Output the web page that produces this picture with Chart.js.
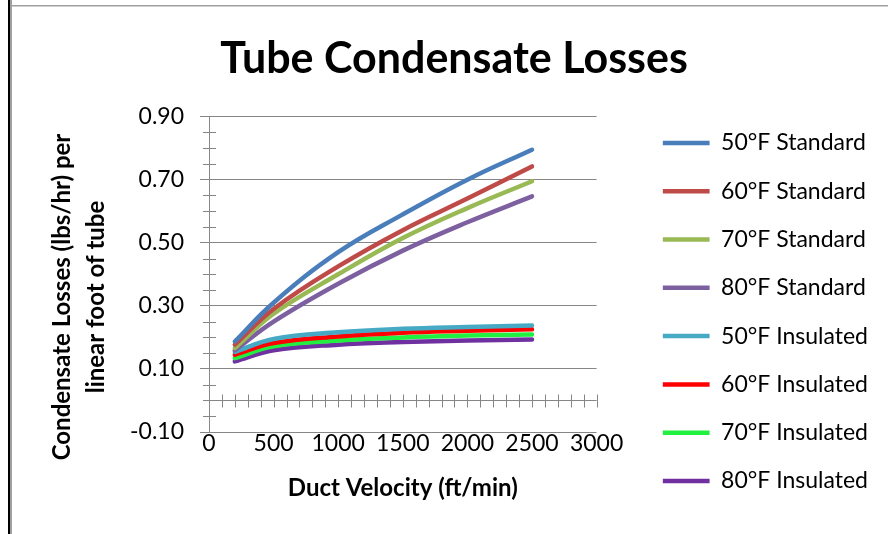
<!DOCTYPE html>
<html>
<head>
<meta charset="utf-8">
<script src="https://cdn.jsdelivr.net/npm/chart.js@4.4.0/dist/chart.umd.min.js"></script>
<style>
  html, body { margin: 0; padding: 0; background: #fff; }
  #wrap { width: 888px; height: 534px; }
</style>
</head>
<body>
<div id="wrap"><canvas id="lossChart" width="888" height="534"></canvas></div>
<script>
// Duct velocity (ft/min)
const velocities = [200, 500, 1000, 1500, 2000, 2500];

// Condensate losses (lbs/hr per linear foot of tube)
const std50 = [0.187, 0.31, 0.47, 0.59, 0.70, 0.795];
const std60 = [0.177, 0.29, 0.425, 0.54, 0.64, 0.742];
const std70 = [0.166, 0.275, 0.40, 0.515, 0.61, 0.695];
const std80 = [0.159, 0.25, 0.37, 0.475, 0.565, 0.647];
const ins50 = [0.154, 0.195, 0.216, 0.227, 0.233, 0.238];
const ins60 = [0.145, 0.182, 0.203, 0.215, 0.221, 0.226];
const ins70 = [0.134, 0.172, 0.19, 0.20, 0.206, 0.209];
const ins80 = [0.124, 0.159, 0.177, 0.185, 0.19, 0.193];

const seriesNames = ['50°F Standard', '60°F Standard', '70°F Standard', '80°F Standard',
                     '50°F Insulated', '60°F Insulated', '70°F Insulated', '80°F Insulated'];
const seriesValues = [std50, std60, std70, std80, ins50, ins60, ins70, ins80];
const seriesColors = ['#4A7EBB', '#BE4B48', '#98B954', '#7D60A0',
                      '#46AAC5', '#FF0000', '#22F040', '#7030A0'];

const yTitleLines = ['Condensate Losses (lbs/hr) per', 'linear foot of tube'];

const PAD_LEFT = 30, PAD_RIGHT = 10;
const AREA_LEFT = 209, AREA_BOTTOM = 432;
const LEGEND_W = 224;
const GRID = '#868686';

// frame, minor ticks, axis at zero, rotated y title
const decorations = {
    id: 'decorations',
    beforeDraw(chart) {
        const ctx = chart.ctx;
        ctx.save();
        ctx.fillStyle = '#fff';
        ctx.fillRect(0, 0, chart.width, chart.height);
        ctx.fillStyle = '#000';
        ctx.fillRect(8, 0, 2, chart.height);
        ctx.fillStyle = '#a0a0a0';
        ctx.fillRect(10, 0, 2, chart.height);
        ctx.fillRect(10, 5, chart.width - 10, 1.5);
        ctx.restore();
    },
    beforeDatasetsDraw(chart) {
        const ctx = chart.ctx;
        const x = chart.scales.x, y = chart.scales.y;
        const x0 = x.getPixelForValue(0);
        const y0 = y.getPixelForValue(0);
        ctx.save();
        ctx.strokeStyle = GRID;
        ctx.lineWidth = 1;
        ctx.beginPath();
        // y minor ticks every 0.05
        for (let k = 0; k <= 20; k++) {
            if (k % 4 === 0) continue;
            const py = Math.round(y.getPixelForValue(-0.1 + k * 0.05)) + 0.5;
            ctx.moveTo(x0 - 6, py);
            ctx.lineTo(x0 + 7, py);
        }
        // horizontal axis through zero with minor ticks every 100
        const yz = Math.round(y0) + 0.5;
        ctx.moveTo(x0, yz);
        ctx.lineTo(x.right, yz);
        for (let v = 100; v <= 3000; v += 100) {
            const px = Math.round(x.getPixelForValue(v)) + 0.5;
            ctx.moveTo(px, yz - 6);
            ctx.lineTo(px, yz + 7);
        }
        ctx.stroke();
        ctx.restore();
    },
    afterDraw(chart) {
        const ctx = chart.ctx;
        ctx.save();
        ctx.fillStyle = '#000';
        ctx.font = 'bold 24px Lato';
        ctx.textAlign = 'center';
        ctx.textBaseline = 'middle';
        const cy = 297;
        [62, 96].forEach((cx, i) => {
            ctx.save();
            ctx.translate(cx, cy);
            ctx.rotate(-Math.PI / 2);
            ctx.fillText(yTitleLines[i], 0, 0);
            ctx.restore();
        });
        ctx.restore();
    }
};

const ctx = document.getElementById('lossChart').getContext('2d');
new Chart(ctx, {
    type: 'scatter',
    data: {
        datasets: seriesNames.map((name, i) => ({
            label: name,
            data: velocities.map((v, j) => ({ x: v, y: seriesValues[i][j] })),
            showLine: true,
            borderColor: seriesColors[i],
            backgroundColor: seriesColors[i],
            borderWidth: 4.5,
            borderCapStyle: 'round',
            pointRadius: 0,
            pointHoverRadius: 0,
            tension: 0.4
        }))
    },
    options: {
        responsive: false,
        animation: false,
        layout: {
            padding: { left: PAD_LEFT, right: PAD_RIGHT, top: 8, bottom: 0 }
        },
        plugins: {
            title: {
                display: true,
                text: 'Tube Condensate Losses',
                color: '#000',
                font: { family: 'Lato', size: 43, weight: 'bold' },
                padding: { top: 25, bottom: 32 }
            },
            legend: {
                position: 'right',
                align: 'start',
                maxWidth: LEGEND_W,
                // empty title only used as top spacer
                title: { display: true, text: '', padding: { top: 109, bottom: 0 } },
                labels: {
                    color: '#000',
                    font: { family: 'Lato', size: 23, lineHeight: 2.1 },
                    usePointStyle: true,
                    pointStyle: 'line',
                    pointStyleWidth: 47,
                    padding: 0,
                    generateLabels: chart =>
                        Chart.defaults.plugins.legend.labels.generateLabels(chart)
                            .map(item => Object.assign(item, { text: [item.text] }))
                }
            },
            tooltip: { enabled: false }
        },
        scales: {
            x: {
                type: 'linear',
                position: 'bottom',
                min: 0,
                max: 3000,
                grid: { display: false },
                border: { display: false },
                ticks: {
                    stepSize: 500,
                    color: '#000',
                    padding: -10,
                    maxRotation: 0,
                    font: { family: 'Lato', size: 23 },
                    callback: v => String(v)
                },
                title: {
                    display: true,
                    text: 'Duct Velocity (ft/min)',
                    color: '#000',
                    font: { family: 'Lato', size: 24, weight: 'bold' },
                    padding: { top: 0, bottom: 31 }
                },
                afterFit: s => { s.height = 534 - AREA_BOTTOM; }
            },
            y: {
                type: 'linear',
                position: 'left',
                min: -0.1,
                max: 0.9,
                grid: { color: GRID, lineWidth: 1, tickLength: 9 },
                border: { display: true, color: GRID, width: 1 },
                ticks: {
                    stepSize: 0.2,
                    color: '#000',
                    padding: 16,
                    font: { family: 'Lato', size: 23 },
                    callback: v => v.toFixed(2)
                },
                afterFit: s => { s.width = AREA_LEFT - PAD_LEFT; }
            },
            gap: {
                type: 'linear',
                position: 'right',
                grid: { display: false },
                border: { display: false },
                ticks: { display: false },
                afterFit: s => { s.width = 66; }
            }
        }
    },
    plugins: [decorations]
});
</script>
</body>
</html>
